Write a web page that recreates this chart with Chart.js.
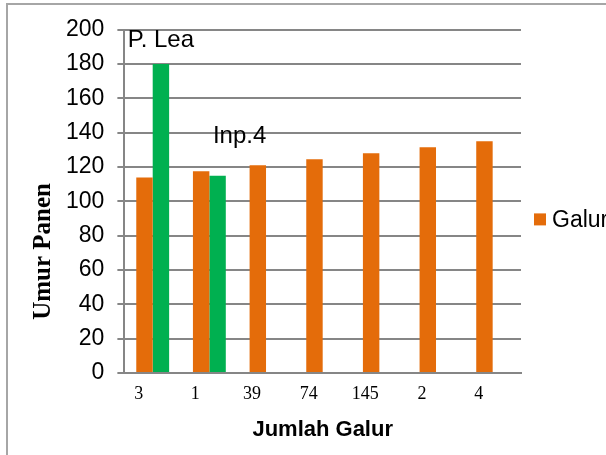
<!DOCTYPE html>
<html>
<head>
<meta charset="utf-8">
<script src="https://cdn.jsdelivr.net/npm/chart.js@4"></script>
<style>
  html, body { margin: 0; padding: 0; background: #fff; overflow: hidden; }
  #frame { position: absolute; left: 6px; top: 3px; width: 640px; height: 480px; border: 2px solid #a6a6a6; }
  #box { position: absolute; left: 1px; top: -2px; width: 614px; height: 446px; }
</style>
</head>
<body>
<div id="frame"><div id="box"><canvas id="chart"></canvas></div></div>
<script>
// data
var categories = ['3', '1', '39', '74', '145', '2', '4'];
var galurValues = [114, 117.5, 121, 124.5, 128, 131.5, 135];
var pembandingValues = [180, 115, null, null, null, null, null];
var pembandingLabels = ['P. Lea', 'Inp.4', '', '', '', '', ''];
var yTicks = { min: 0, max: 200, step: 20 };

// text over the two green bars, placed by hand like in the original
var barLabels = {
    id: 'barLabels',
    afterDatasetsDraw: function(chart) {
        var ctx = chart.ctx;
        var meta = chart.getDatasetMeta(1);
        var shift = [[0, 24], [22, 39]];
        ctx.save();
        ctx.font = '24px Arial, "Liberation Sans", sans-serif';
        ctx.fillStyle = '#000';
        ctx.textAlign = 'center';
        ctx.textBaseline = 'middle';
        meta.data.forEach(function(bar, i) {
            if (!pembandingLabels[i] || pembandingValues[i] == null) return;
            var s = shift[i] || [0, 20];
            ctx.fillText(pembandingLabels[i], bar.x + s[0], bar.y - s[1]);
        });
        ctx.restore();
    }
};

// y title sits lower than centre in the original, and the legend only shows "Galur"
var sideText = {
    id: 'sideText',
    afterDraw: function(chart) {
        var ctx = chart.ctx;
        var area = chart.chartArea;
        var ds = chart.data.datasets[0];
        ctx.save();
        // y axis title
        ctx.translate(area.left - 81, (area.top + area.bottom) / 2 + 50);
        ctx.rotate(-Math.PI / 2);
        ctx.font = 'bold 25px "Liberation Serif", "Times New Roman", serif';
        ctx.fillStyle = '#000';
        ctx.textAlign = 'center';
        ctx.textBaseline = 'middle';
        ctx.fillText('Umur Panen', 0, 0);
        ctx.restore();
        // legend
        ctx.save();
        var ly = (area.top + area.bottom) / 2 + 18;
        ctx.fillStyle = ds.backgroundColor;
        ctx.fillRect(area.right + 13, ly - 6, 12, 12);
        ctx.font = '23px Arial, "Liberation Sans", sans-serif';
        ctx.fillStyle = '#000';
        ctx.textAlign = 'left';
        ctx.textBaseline = 'middle';
        ctx.fillText(ds.label, area.right + 31, ly + 1);
        ctx.restore();
    }
};

function initChart() {
    var ctx = document.getElementById('chart').getContext('2d');
    var chart = new Chart(ctx, {
        type: 'bar',
        data: {
            labels: categories,
            datasets: [{
                label: 'Galur',
                data: galurValues,
                backgroundColor: '#e46c0a',
                borderWidth: 0
            }, {
                label: 'Pembanding',
                data: pembandingValues,
                backgroundColor: '#00b050',
                borderWidth: 0
            }]
        },
        options: {
            responsive: true,
            maintainAspectRatio: false,
            animation: false,
            categoryPercentage: 0.58,
            barPercentage: 1.0,
            layout: { padding: { left: 44, top: 3, right: 102, bottom: 6 } },
            plugins: {
                legend: { display: false },
                tooltip: { enabled: false }
            },
            scales: {
                x: {
                    grid: { display: false, drawTicks: false },
                    border: { display: true, color: '#868686', width: 2 },
                    ticks: {
                        color: '#000',
                        padding: 10,
                        labelOffset: -14,
                        font: { family: '"Liberation Serif", "Times New Roman", serif', size: 18 }
                    },
                    title: {
                        display: true,
                        text: 'Jumlah Galur',
                        color: '#000',
                        padding: { top: 2, bottom: 0 },
                        font: { family: 'Arial, "Liberation Sans", sans-serif', size: 22, weight: 'bold' }
                    }
                },
                y: {
                    min: yTicks.min,
                    max: yTicks.max,
                    grid: { color: '#868686', lineWidth: 2, tickLength: 7 },
                    border: { display: true, color: '#868686', width: 2 },
                    ticks: {
                        stepSize: yTicks.step,
                        color: '#000',
                        padding: 13,
                        font: { family: 'Arial, "Liberation Sans", sans-serif', size: 23 }
                    }
                }
            }
        },
        plugins: [barLabels, sideText]
    });
}
document.addEventListener('DOMContentLoaded', initChart);
</script>
</body>
</html>
